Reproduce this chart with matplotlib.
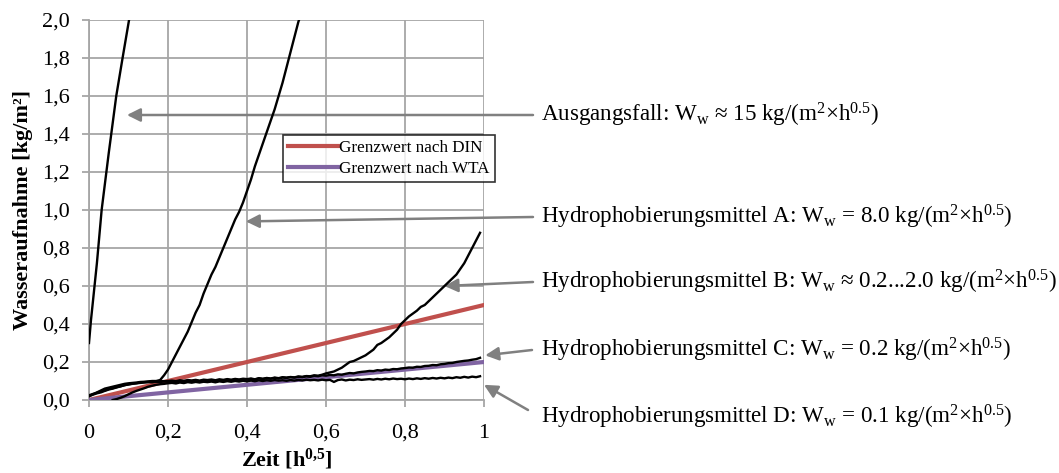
import numpy as np
import matplotlib
matplotlib.use("Agg")
import matplotlib.pyplot as plt

plt.rcParams['font.family'] = ['Liberation Serif', 'DejaVu Serif']
plt.rcParams['mathtext.fontset'] = 'custom'
plt.rcParams['mathtext.rm'] = 'Liberation Serif'
plt.rcParams['mathtext.bf'] = 'Liberation Serif:bold'
plt.rcParams['mathtext.default'] = 'regular'

# --- Daten ---
x_aus = [0.0, 0.005, 0.01, 0.014, 0.02, 0.032, 0.05, 0.069, 0.085, 0.103]
y_aus = [0.30, 0.42, 0.52, 0.60, 0.72, 1.00, 1.30, 1.60, 1.80, 2.02]

x_a = [0.00, 0.01, 0.02, 0.03, 0.04, 0.05, 0.06, 0.07, 0.08, 0.09,
       0.10, 0.11, 0.12, 0.13, 0.14, 0.15, 0.16, 0.17, 0.18, 0.19,
       0.20, 0.21, 0.22, 0.23, 0.24, 0.25, 0.26, 0.27, 0.28, 0.29,
       0.30, 0.31, 0.32, 0.33, 0.34, 0.35, 0.36, 0.37, 0.38, 0.39,
       0.40, 0.41, 0.42, 0.43, 0.44, 0.45, 0.46, 0.47, 0.48, 0.49,
       0.50, 0.51, 0.52, 0.53, 0.535]
y_a = [0.02, 0.03, 0.04, 0.05, 0.06, 0.065, 0.07, 0.075, 0.08, 0.085,
       0.088, 0.09, 0.092, 0.095, 0.096, 0.098, 0.10, 0.10, 0.105, 0.13,
       0.16, 0.20, 0.24, 0.28, 0.32, 0.36, 0.41, 0.46, 0.50, 0.56,
       0.61, 0.66, 0.70, 0.75, 0.80, 0.85, 0.90, 0.95, 0.99, 1.04,
       1.10, 1.16, 1.23, 1.29, 1.35, 1.41, 1.47, 1.53, 1.60, 1.67,
       1.75, 1.83, 1.91, 1.99, 2.02]

x_bc = list(np.round(np.arange(0, 1.0, 0.01), 2))
y_b = [0.025, 0.032, 0.038, 0.045, 0.05, 0.058, 0.062, 0.068, 0.072, 0.078,
       0.082, 0.086, 0.088, 0.092, 0.094, 0.095, 0.097, 0.098, 0.10, 0.099,
       0.10, 0.102, 0.099, 0.104, 0.101, 0.105, 0.103, 0.106, 0.102, 0.107,
       0.105, 0.108, 0.104, 0.109, 0.106, 0.11, 0.107, 0.111, 0.108, 0.112,
       0.11, 0.113, 0.109, 0.115, 0.112, 0.116, 0.113, 0.118, 0.115, 0.12,
       0.118, 0.121, 0.119, 0.124, 0.122, 0.126, 0.125, 0.13, 0.128, 0.133,
       0.14, 0.145, 0.15, 0.16, 0.17, 0.185, 0.20, 0.205, 0.215, 0.225,
       0.235, 0.25, 0.265, 0.29, 0.30, 0.315, 0.33, 0.35, 0.37, 0.40,
       0.42, 0.44, 0.455, 0.47, 0.49, 0.50, 0.52, 0.54, 0.56, 0.58,
       0.60, 0.62, 0.64, 0.66, 0.69, 0.72, 0.76, 0.80, 0.84, 0.88]
y_c = [0.02, 0.028, 0.035, 0.04, 0.048, 0.055, 0.06, 0.066, 0.072, 0.078,
       0.082, 0.085, 0.088, 0.09, 0.092, 0.094, 0.093, 0.096, 0.095, 0.097,
       0.096, 0.098, 0.095, 0.10, 0.097, 0.101, 0.098, 0.102, 0.099, 0.103,
       0.10, 0.104, 0.101, 0.105, 0.102, 0.107, 0.103, 0.108, 0.105, 0.109,
       0.107, 0.111, 0.108, 0.113, 0.11, 0.114, 0.112, 0.116, 0.113, 0.118,
       0.116, 0.12, 0.118, 0.122, 0.12, 0.125, 0.122, 0.127, 0.125, 0.13,
       0.128, 0.132, 0.13, 0.135, 0.133, 0.138, 0.142, 0.14, 0.145, 0.148,
       0.15, 0.153, 0.152, 0.157, 0.155, 0.16, 0.158, 0.163, 0.162, 0.166,
       0.168, 0.171, 0.17, 0.175, 0.174, 0.179, 0.18, 0.184, 0.183, 0.188,
       0.19, 0.194, 0.195, 0.20, 0.203, 0.206, 0.208, 0.212, 0.215, 0.222]

x_d = list(np.round(np.arange(0.06, 1.0, 0.01), 2))
y_d = [0.0, 0.005, 0.012, 0.02,
       0.03, 0.04, 0.048, 0.055, 0.062, 0.07, 0.075, 0.08, 0.083, 0.085,
       0.088, 0.09, 0.087, 0.092, 0.089, 0.094, 0.091, 0.095, 0.092, 0.096,
       0.094, 0.097, 0.093, 0.098, 0.095, 0.099, 0.096, 0.10, 0.097, 0.101,
       0.098, 0.102, 0.099, 0.103, 0.10, 0.104, 0.101, 0.105, 0.102, 0.104,
       0.101, 0.105, 0.102, 0.106, 0.103, 0.107, 0.104, 0.106, 0.103, 0.107,
       0.104, 0.106, 0.095, 0.105, 0.108, 0.103, 0.107, 0.105, 0.109, 0.106,
       0.108, 0.11, 0.107, 0.111, 0.108, 0.112, 0.109, 0.113, 0.11, 0.112,
       0.109, 0.113, 0.11, 0.114, 0.111, 0.115, 0.112, 0.116, 0.113, 0.117,
       0.114, 0.118, 0.115, 0.12, 0.117, 0.122, 0.118, 0.123, 0.12, 0.125]

x_grenz = [0.0, 1.0]
y_din = [0.0, 0.5]
y_wta = [0.0, 0.2]

# Beschriftungen der Kurven: Text, Pfeilspitze (Daten), Pfeilende und Textzeile (Bildpixel)
labels = [
    r"Ausgangsfall: W$_\mathrm{w}$ ≈ 15 kg/(m$^\mathrm{2}$×h$^\mathrm{0.5}$)",
    r"Hydrophobierungsmittel A: W$_\mathrm{w}$ = 8.0 kg/(m$^\mathrm{2}$×h$^\mathrm{0.5}$)",
    r"Hydrophobierungsmittel B: W$_\mathrm{w}$ ≈ 0.2...2.0 kg/(m$^\mathrm{2}$×h$^\mathrm{0.5}$)",
    r"Hydrophobierungsmittel C: W$_\mathrm{w}$ = 0.2 kg/(m$^\mathrm{2}$×h$^\mathrm{0.5}$)",
    r"Hydrophobierungsmittel D: W$_\mathrm{w}$ = 0.1 kg/(m$^\mathrm{2}$×h$^\mathrm{0.5}$)",
]
arrow_tips = [(0.096, 1.5), (0.397, 0.94), (0.90, 0.60), (1.003, 0.235), (1.0, 0.08)]
arrow_tails = [(533, 115), (533, 217), (533, 282), (532, 350), (528, 410)]
text_rows = [115, 217, 282, 350, 417]

W, H = 1059, 473
fig = plt.figure(figsize=(W / 100, H / 100), dpi=100)
ax = fig.add_axes([89 / W, (H - 400) / H, (484 - 89) / W, 380 / H])

grid_col = '#a6a6a6'
ax.set_xlim(0, 1)
ax.set_ylim(0, 2)
ax.set_xticks([0, 0.2, 0.4, 0.6, 0.8, 1.0])
ax.set_xticklabels(['0', '0,2', '0,4', '0,6', '0,8', '1'])
ax.set_yticks(np.arange(0, 2.01, 0.2))
ax.set_yticklabels([f"{v:.1f}".replace('.', ',') for v in np.arange(0, 2.01, 0.2)])
ax.grid(True, color=grid_col, lw=1.3)
ax.set_axisbelow(True)
for s in ax.spines.values():
    s.set_visible(False)
for side in ['left', 'bottom']:
    ax.spines[side].set_visible(True)
    ax.spines[side].set_color(grid_col)
    ax.spines[side].set_linewidth(1.3)
ax.tick_params(axis='both', color=grid_col, width=1.3, length=5, labelsize=16)
ax.tick_params(axis='y', pad=9)
ax.tick_params(axis='x', pad=12)

# Grenzwerte
ax.plot(x_grenz, y_din, color='#c0504d', lw=3, label='Grenzwert nach DIN', zorder=3)
ax.plot(x_grenz, y_wta, color='#8064a2', lw=3, label='Grenzwert nach WTA', zorder=3)

# Messkurven
for xs, ys in [(x_aus, y_aus), (x_a, y_a), (x_bc, y_b), (x_bc, y_c), (x_d, y_d)]:
    ax.plot(xs, ys, color='black', lw=1.7, zorder=4)

ax.set_xlabel(r"Zeit [h$^{\mathbf{0{,}5}}$]", fontsize=16, fontweight='bold', labelpad=3)
ax.set_ylabel("Wasseraufnahme [kg/m²]", fontsize=16, fontweight='bold', labelpad=6)

leg = ax.legend(loc='upper left', bbox_to_anchor=((283 - 89) / 395, (400 - 135) / 380),
                fontsize=12.3, frameon=True, fancybox=False, edgecolor='black',
                handlelength=3.0, handletextpad=0.0, borderpad=0.3, labelspacing=0.3,
                borderaxespad=0)
leg.get_frame().set_linewidth(1.2)
leg.set_zorder(6)

for txt, tip, tail, ty in zip(labels, arrow_tips, arrow_tails, text_rows):
    ax.annotate('', xy=tip, xycoords='data', xytext=(tail[0], H - tail[1]),
                textcoords='figure pixels', annotation_clip=False,
                arrowprops=dict(arrowstyle='-|>', color='#808080', lw=1.8,
                                mutation_scale=20, shrinkA=0, shrinkB=0))
    fig.text(541 / W, (H - ty) / H, txt, fontsize=16.6, ha='left', va='center')

fig.savefig('out.png', dpi=100)
